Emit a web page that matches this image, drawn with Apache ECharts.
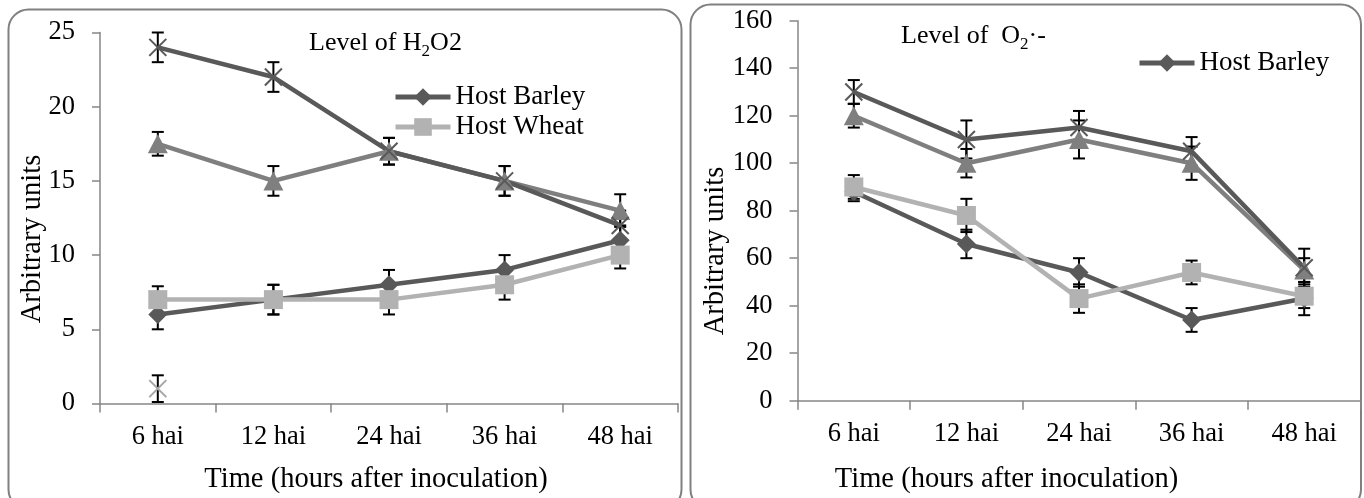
<!DOCTYPE html>
<html>
<head>
<meta charset="utf-8">
<script src="https://cdn.jsdelivr.net/npm/echarts@6/dist/echarts.min.js"></script>
<style>
html,body{margin:0;padding:0;background:#fff;}
#chart{width:1364px;height:498px;}
</style>
</head>
<body>
<div id="chart"></div>
<script>
// ---------- data ----------
const categories = ['6 hai', '12 hai', '24 hai', '36 hai', '48 hai'];

// Left panel: Level of H2O2
const h2o2Barley = [6, 7, 8, 9, 11];
const h2o2BarleyErr = [1, 1, 1, 1, 1];
const h2o2Wheat = [7, 7, 7, 8, 10];
const h2o2WheatErr = [0.9, 1, 1, 1, 0.9];
const h2o2Triangle = [17.5, 15, 17, 15, 13];
const h2o2TriangleErr = [0.8, 1, 0.9, 1, 1.1];
const h2o2Cross = [24, 22, 17, 15, 12];
const h2o2CrossErr = [1, 1, 0.9, 1, 1];
const h2o2Star = [1, null, null, null, null];
const h2o2StarErr = [0.9, null, null, null, null];
const h2o2Ticks = [0, 5, 10, 15, 20, 25];

// Right panel: Level of O2·-
const o2Barley = [88, 66, 54, 34, 43];
const o2BarleyErr = [4, 6, 6, 5, 7];
const o2Wheat = [90, 78, 43, 54, 44];
const o2WheatErr = [5, 7, 6, 5, 5];
const o2Triangle = [120, 100, 110, 100, 55];
const o2TriangleErr = [5, 6, 8, 7, 5];
const o2Cross = [130, 110, 115, 105, 56];
const o2CrossErr = [5, 8, 7, 6, 8];
const o2Ticks = [0, 20, 40, 60, 80, 100, 120, 140, 160];

// ---------- styling ----------
const FONT = "'Liberation Serif', 'DejaVu Serif', serif";
const C_DARK = '#595959';
const C_LIGHT = '#b2b2b2';
const C_MID = '#7f7f7f';
const C_STAR = '#a6a6a6';
const AXIS = '#868686';

const chart = echarts.init(document.getElementById('chart'), null, {renderer: 'canvas'});

function lineSeries(name, data, color, symbol, size, idx, crossMarker) {
  return {
    type: 'line', name: name, data: data,
    xAxisIndex: idx, yAxisIndex: idx,
    symbol: symbol, symbolSize: size, showAllSymbol: true,
    lineStyle: {color: color, width: 4.5},
    itemStyle: crossMarker ? {color: 'rgba(0,0,0,0)', borderColor: color, borderWidth: 2}
                           : {color: color, borderWidth: 0},
    emphasis: {disabled: true},
    z: 2
  };
}

function errSeries(vals, errs, idx) {
  const d = [];
  vals.forEach(function (v, i) {
    if (v === null || errs[i] === null) return;
    d.push([i, v - errs[i], v + errs[i]]);
  });
  return {
    type: 'custom', xAxisIndex: idx, yAxisIndex: idx, z: 1,
    data: d, encode: {x: 0, y: [1, 2]}, silent: true,
    renderItem: function (params, api) {
      const lo = api.coord([api.value(0), api.value(1)]);
      const hi = api.coord([api.value(0), api.value(2)]);
      const h = 6;
      const st = {stroke: '#000', lineWidth: 2, fill: null};
      return {type: 'group', children: [
        {type: 'line', shape: {x1: lo[0], y1: lo[1], x2: hi[0], y2: hi[1]}, style: st},
        {type: 'line', shape: {x1: lo[0] - h, y1: lo[1], x2: lo[0] + h, y2: lo[1]}, style: st},
        {type: 'line', shape: {x1: hi[0] - h, y1: hi[1], x2: hi[0] + h, y2: hi[1]}, style: st}
      ]};
    }
  };
}

const X_PATH = 'path://M0,0L20,20M20,0L0,20';

function xAxisCfg(idx) {
  return {
    type: 'category', gridIndex: idx, data: categories, boundaryGap: true,
    axisLine: {lineStyle: {color: AXIS, width: 1.5}},
    axisTick: {show: true, length: 9, lineStyle: {color: AXIS, width: 1.5}},
    axisLabel: {color: '#000', fontSize: 26.5, fontFamily: FONT, margin: 20}
  };
}
function yAxisCfg(idx, ticks) {
  return {
    type: 'value', gridIndex: idx,
    min: ticks[0], max: ticks[ticks.length - 1], interval: ticks[1] - ticks[0],
    splitLine: {show: false},
    axisLine: {show: true, lineStyle: {color: AXIS, width: 1.5}},
    axisTick: {show: true, length: 8, lineStyle: {color: AXIS, width: 1.5}},
    axisLabel: {color: '#000', fontSize: 26.5, fontFamily: FONT, margin: 25}
  };
}

const legendText = {color: '#000', fontSize: 27, fontFamily: FONT, lineHeight: 30};
const titleRich = {
  a: {fontSize: 26, fontFamily: FONT, fontWeight: 'normal', color: '#000', lineHeight: 32},
  s: {fontSize: 17, fontFamily: FONT, fontWeight: 'normal', color: '#000', lineHeight: 20, padding: [18, 0, 0, 0]}
};
const nameStyle = {fontSize: 28.5, fontFamily: FONT, fill: '#000', align: 'center', verticalAlign: 'middle'};

const option = {
  animation: false,
  backgroundColor: '#fff',
  textStyle: {fontFamily: FONT},
  title: [
    {text: '{a|Level of H}{s|2}{a|O2}', left: 309, top: 27, padding: 0,
     textStyle: {fontWeight: 'normal', fontFamily: FONT, rich: titleRich}},
    {text: '{a|Level of  O}{s|2}{a|·-}', left: 901, top: 20, padding: 0,
     textStyle: {fontWeight: 'normal', fontFamily: FONT, rich: titleRich}}
  ],
  legend: [
    {data: ['Host Barley', 'Host Wheat'], orient: 'vertical',
     left: 393, top: 82, padding: 0, itemGap: 0,
     itemWidth: 55, itemHeight: 22, textStyle: legendText, selectedMode: false,
     lineStyle: {width: 5}},
    {data: ['Host Barley'], orient: 'vertical',
     left: 1137, top: 48, padding: 0, itemGap: 0,
     itemWidth: 55, itemHeight: 22, textStyle: legendText, selectedMode: false,
     lineStyle: {width: 5}}
  ],
  grid: [
    {left: 100, top: 32.5, width: 578, height: 371},
    {left: 797.5, top: 20.7, width: 563, height: 380}
  ],
  xAxis: [xAxisCfg(0), xAxisCfg(1)],
  yAxis: [yAxisCfg(0, h2o2Ticks), yAxisCfg(1, o2Ticks)],
  graphic: [
    {type: 'rect', z: -10, shape: {x: 8.5, y: 9.5, width: 673, height: 500, r: 20},
     style: {fill: 'none', stroke: '#808080', lineWidth: 2}},
    {type: 'rect', z: -10, shape: {x: 690.5, y: 4.5, width: 670.5, height: 505, r: 20},
     style: {fill: 'none', stroke: '#808080', lineWidth: 2}},
    {type: 'text', x: 32.5, y: 239, rotation: Math.PI / 2,
     style: Object.assign({text: 'Arbitrary units'}, nameStyle)},
    {type: 'text', x: 716, y: 251, rotation: Math.PI / 2,
     style: Object.assign({text: 'Arbitrary units'}, nameStyle)},
    {type: 'text', x: 376, y: 480,
     style: Object.assign({text: 'Time (hours after inoculation)'}, nameStyle)},
    {type: 'text', x: 1006.5, y: 480,
     style: Object.assign({text: 'Time (hours after inoculation)'}, nameStyle)}
  ],
  series: [
    errSeries(h2o2Barley, h2o2BarleyErr, 0),
    errSeries(h2o2Wheat, h2o2WheatErr, 0),
    errSeries(h2o2Triangle, h2o2TriangleErr, 0),
    errSeries(h2o2Cross, h2o2CrossErr, 0),
    errSeries(h2o2Star, h2o2StarErr, 0),
    lineSeries('Host Barley', h2o2Barley, C_DARK, 'diamond', [19, 19], 0),
    lineSeries('Host Wheat', h2o2Wheat, C_LIGHT, 'rect', [19, 19], 0),
    lineSeries('H2O2 series 3', h2o2Triangle, C_MID, 'triangle', [20, 19], 0),
    lineSeries('H2O2 series 4', h2o2Cross, C_DARK, X_PATH, [17, 17], 0, true),
    lineSeries('H2O2 series 5', h2o2Star, C_STAR, X_PATH, [17, 17], 0, true),

    errSeries(o2Barley, o2BarleyErr, 1),
    errSeries(o2Wheat, o2WheatErr, 1),
    errSeries(o2Triangle, o2TriangleErr, 1),
    errSeries(o2Cross, o2CrossErr, 1),
    lineSeries('Host Barley', o2Barley, C_DARK, 'diamond', [19, 19], 1),
    lineSeries('O2 wheat', o2Wheat, C_LIGHT, 'rect', [19, 19], 1),
    lineSeries('O2 series 3', o2Triangle, C_MID, 'triangle', [20, 19], 1),
    lineSeries('O2 series 4', o2Cross, C_DARK, X_PATH, [17, 17], 1, true)
  ]
};
chart.setOption(option);
</script>
</body>
</html>
